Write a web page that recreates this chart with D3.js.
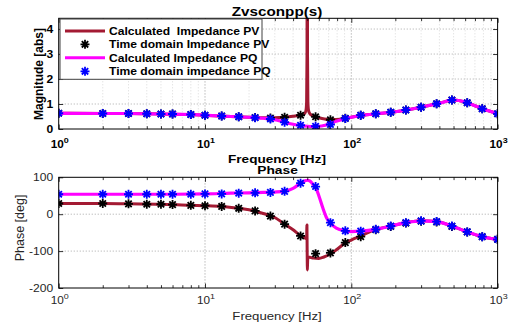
<!DOCTYPE html>
<html><head><meta charset="utf-8">
<script src="https://cdn.jsdelivr.net/npm/d3@7"></script>
<style>body{margin:0;background:#fff;} svg{display:block;font-family:"Liberation Sans",Arial,sans-serif;} text{white-space:pre;}</style>
</head><body>
<svg id="c" width="508" height="328"></svg>
<script>
// ---------- data ----------
const markerFreq   = [1,2,3,4,5,6,8,10,13,17,22,28,35,45,57,72,91,116,147,186,236,300,383,487,620,785,1000];
const magPVTime    = [0.63,0.62,0.62,0.61,0.60,0.60,0.58,0.55,0.52,0.49,0.46,0.44,0.47,0.55,0.49,0.37,0.43,0.55,0.61,0.67,0.76,0.87,1.01,1.16,1.05,0.81,0.61];
const magPQTime    = [0.63,0.62,0.62,0.61,0.60,0.60,0.58,0.55,0.52,0.49,0.45,0.40,0.27,0.15,0.11,0.18,0.42,0.55,0.61,0.67,0.76,0.87,1.01,1.16,1.05,0.81,0.61];
const phasePVTime  = [29,29,28,27,27,26,24,23,21,16,9,-5,-27,-59,-107,-105,-77,-61,-42,-33,-24,-19,-21,-33,-48,-61,-68];
const phasePQTime  = [54,54,54,54,54,54,54,55,55,57,58,59,62,84,75,-23,-45,-46,-41,-32,-23,-18,-20,-32,-48,-61,-68];

const magPVCalcFreq = [1,2,3,5,8,10,15,20,25,30,35,40,45,48,49,49.5,49.8,50,50.2,50.5,51,52,55,60,70,80,90,100,120,150,200,250,300,400,500,600,700,800,1000];
const magPVCalc     = [0.63,0.62,0.62,0.60,0.58,0.55,0.50,0.47,0.45,0.45,0.47,0.51,0.56,0.62,0.75,1.1,3.0,12,3.0,1.1,0.75,0.62,0.52,0.45,0.38,0.38,0.42,0.47,0.55,0.61,0.69,0.78,0.87,1.03,1.16,1.08,0.93,0.80,0.61];
const magPQCalcFreq = [1,2,3,5,8,10,15,20,25,30,35,40,45,50,55,60,65,70,80,90,100,120,150,200,250,300,400,500,600,700,800,1000];
const magPQCalc     = [0.63,0.62,0.62,0.60,0.58,0.55,0.50,0.47,0.43,0.37,0.27,0.19,0.14,0.11,0.10,0.11,0.14,0.20,0.32,0.41,0.47,0.55,0.61,0.69,0.78,0.87,1.03,1.16,1.08,0.93,0.80,0.61];

const phPVCalcFreq = [1,2,3,5,8,10,13,17,20,25,30,35,40,45,48,49.5,49.75,49.9,50.1,50.3,50.6,51,55,60,65,72,80,91,100,116,130,147,186,236,300,383,487,620,785,1000];
const phPVCalc     = [29,29,28,27,24,23,21,16,12,2,-9,-27,-42,-58,-64,-66,-29,-90,-151,-125,-117,-116,-119,-120,-116,-108,-95,-78,-70,-59,-50,-42,-32,-23,-18,-20,-32,-48,-61,-68];
const phPQCalcFreq = [1,5,10,15,20,25,30,35,40,45,48,50,52,55,57,60,64,68,72,79,91,100,116,147,186,236,300,383,487,620,785,1000];
const phPQCalc     = [54,54,55,57,58,59,60,62,70,84,90,92,90,80,73,50,16,-11,-24,-38,-45,-47,-46,-41,-32,-23,-18,-20,-32,-48,-61,-68];

const xTicks   = [1,10,100,1000];
const xTickExp = ["0","1","2","3"];
const magTicks = [0,1,2,3,4];
const phTicks  = [-200,-100,0,100];
const legendLabels = ["Calculated  Impedance PV","Time domain Impedance PV","Calculated Impedance PQ","Time domain impedance PQ"];

// ---------- layout ----------
const svg = d3.select("#c");
const L = 58.7, R = 497.6;
const top1 = 18.3, bot1 = 129, top2 = 177.3, bot2 = 288;
const x = d3.scaleLog().domain([1,1000]).range([L,R]);
const yMag = d3.scaleLinear().domain([0,4.43]).range([bot1,top1]);
const yPh  = d3.scaleLinear().domain([-200,100]).range([bot2,top2]);
const minorX = [];
[1,10,100].forEach(d=>{for(let k=2;k<=9;k++) minorX.push(d*k);});

const COL_PV = "#A31A33", COL_PQ = "#FF00FF";

function hText(g, px, py, str, size, weight, sx, anchor, fill){
  const t = g.append("g").attr("transform",`translate(${px},${py}) scale(${sx},1)`)
    .append("text").attr("text-anchor",anchor||"middle").attr("font-size",size)
    .attr("font-weight",weight).attr("fill",fill||"#000").attr("xml:space","preserve").text(str);
  return t;
}

function panel(yScale, yT, top, bot, id, opts){
  const g = svg.append("g");
  g.append("defs").append("clipPath").attr("id",id).append("rect")
    .attr("x",L).attr("y",top).attr("width",R-L).attr("height",bot-top);
  const grid = g.append("g").attr("fill","none");
  if(opts.minorGrid){
    grid.selectAll("line.mn").data(minorX).join("line").attr("class","mn")
      .attr("x1",d=>x(d)).attr("x2",d=>x(d)).attr("y1",top).attr("y2",bot)
      .attr("stroke","#d0d0d0").attr("stroke-width",0.8).attr("stroke-dasharray","1,2");
  }
  grid.selectAll("line.mx").data([10,100]).join("line").attr("class","mx")
    .attr("x1",d=>x(d)).attr("x2",d=>x(d)).attr("y1",top).attr("y2",bot)
    .attr("stroke","#a0a0a0").attr("stroke-width",0.9).attr("stroke-dasharray","1.2,1.8");
  grid.selectAll("line.my").data(yT.filter(v=>yScale(v)>top+1 && yScale(v)<bot-1)).join("line").attr("class","my")
    .attr("y1",d=>yScale(d)).attr("y2",d=>yScale(d)).attr("x1",L).attr("x2",R)
    .attr("stroke","#b0b0b0").attr("stroke-width",0.9).attr("stroke-dasharray","1.2,1.8");
  const plot = g.append("g").attr("clip-path",`url(#${id})`);
  const ax = g.append("g").attr("class","axes");
  const mk = (axis, tx, ty) => ax.append("g").attr("transform",`translate(${tx},${ty})`).call(axis)
      .call(s=>{s.selectAll("text").remove(); s.select(".domain").remove(); s.selectAll("line").attr("stroke","#000").attr("stroke-width",0.8);});
  mk(d3.axisBottom(x).tickValues(xTicks).tickSizeInner(-4.5).tickSizeOuter(0), 0, bot);
  mk(d3.axisTop(x).tickValues(xTicks).tickSizeInner(-4.5).tickSizeOuter(0), 0, top);
  mk(d3.axisBottom(x).tickValues(minorX).tickSizeInner(-2.8).tickSizeOuter(0), 0, bot);
  mk(d3.axisTop(x).tickValues(minorX).tickSizeInner(-2.8).tickSizeOuter(0), 0, top);
  mk(d3.axisLeft(yScale).tickValues(yT).tickSizeInner(-4.5).tickSizeOuter(0), L, 0);
  mk(d3.axisRight(yScale).tickValues(yT).tickSizeInner(-4.5).tickSizeOuter(0), R, 0);
  g.append("rect").attr("x",L).attr("y",top).attr("width",R-L).attr("height",bot-top)
    .attr("fill","none").attr("stroke","#000").attr("stroke-width",1);
  const lab = g.append("g");
  const w = opts.bold ? "bold" : "normal";
  const fc = opts.bold ? "#000" : "#262626";
  yT.forEach(v=>{
    hText(lab, L-5.5, yScale(v)+3.6, String(v), 10.5, w, 1.15, "end", fc);
  });
  xTicks.forEach((v,i)=>{
    const t = hText(lab, x(v)+1, opts.xlabY, "", 10.5, w, 1.12, "middle", fc);
    t.append("tspan").text("10");
    t.append("tspan").attr("dy",-4.5).attr("font-size",8).text(xTickExp[i]);
  });
  return plot;
}

const star = "M-4.5,0H4.5M0,-4.5V4.5M-3.2,-3.2L3.2,3.2M-3.2,3.2L3.2,-3.2";
function drawLine(plot, fx, fy, ys, col, w){
  plot.append("path").datum(fx.map((f,i)=>[f,fy[i]]))
    .attr("fill","none").attr("stroke",col).attr("stroke-width",w).attr("stroke-linejoin","round")
    .attr("d", d3.line().x(d=>x(d[0])).y(d=>ys(d[1])).curve(d3.curveMonotoneX));
}
function drawMarks(plot, fx, fy, ys, col){
  plot.append("g").selectAll("path").data(fx.map((f,i)=>[f,fy[i]])).join("path")
    .attr("transform",d=>`translate(${x(d[0])},${ys(d[1])})`).attr("d",star)
    .attr("stroke",col).attr("stroke-width",1.8).attr("fill","none");
}

// ---------- top panel ----------
const p1 = panel(yMag, magTicks, top1, bot1, "clip1", {minorGrid:true, bold:true, xlabY:147.5});
drawLine(p1, magPVCalcFreq, magPVCalc, yMag, COL_PV, 3);
drawMarks(p1, markerFreq, magPVTime, yMag, "#000");
drawLine(p1, magPQCalcFreq, magPQCalc, yMag, COL_PQ, 3.2);
drawMarks(p1, markerFreq, magPQTime, yMag, "#0000FF");

// ---------- bottom panel ----------
const p2 = panel(yPh, phTicks, top2, bot2, "clip2", {minorGrid:false, bold:false, xlabY:303.5});
drawLine(p2, phPVCalcFreq, phPVCalc, yPh, COL_PV, 3);
drawMarks(p2, markerFreq, phasePVTime, yPh, "#000");
drawLine(p2, phPQCalcFreq, phPQCalc, yPh, COL_PQ, 3.2);
drawMarks(p2, markerFreq, phasePQTime, yPh, "#0000FF");

// ---------- titles & labels ----------
const T = svg.append("g");
hText(T, 277, 15.5, "Zvsconpp(s)", 12.5, "bold", 1.22, "middle");
hText(T, 277, 162.5, "Frequency [Hz]", 11.5, "bold", 1.18, "middle");
hText(T, 277.5, 173.5, "Phase", 11.5, "bold", 1.2, "middle");
hText(T, 277, 320, "Frequency [Hz]", 11, "normal", 1.2, "middle", "#262626");
T.append("text").attr("transform",`translate(42.5,74) rotate(-90)`).attr("text-anchor","middle")
  .attr("font-size",12).attr("font-weight","bold").text("Magnitude [abs]");
T.append("text").attr("transform",`translate(23.5,228) rotate(-90)`).attr("text-anchor","middle")
  .attr("font-size",12.5).attr("fill","#262626").text("Phase [deg]");

// ---------- legend ----------
const lg = svg.append("g");
lg.append("rect").attr("x",60).attr("y",19).attr("width",202).attr("height",60.3)
  .attr("fill","#fff").attr("stroke","#404040").attr("stroke-width",1);
const rowsY = [31, 44.3, 57.8, 71.3];
const kinds = [["line",COL_PV],["mark","#000"],["line",COL_PQ],["mark","#0000FF"]];
legendLabels.forEach((s,i)=>{
  const [k,c] = kinds[i];
  if(k==="line") lg.append("line").attr("x1",65).attr("x2",105).attr("y1",rowsY[i]).attr("y2",rowsY[i])
      .attr("stroke",c).attr("stroke-width",3);
  else lg.append("path").attr("transform",`translate(85,${rowsY[i]})`).attr("d",star)
      .attr("stroke",c).attr("stroke-width",1.8).attr("fill","none");
  hText(lg, 109, rowsY[i]+3.9, s, 11, "bold", 1.1, "start");
});
</script>
</body></html>
